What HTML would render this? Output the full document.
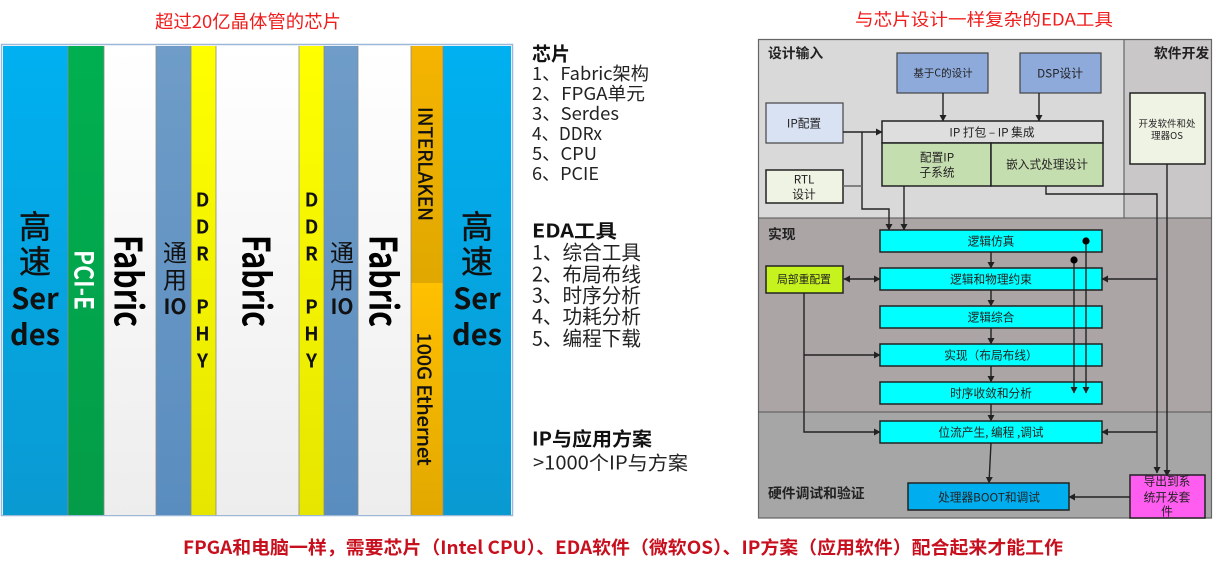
<!DOCTYPE html>
<html><head><meta charset="utf-8"><style>
html,body{margin:0;padding:0;background:#fff;width:1217px;height:567px;overflow:hidden}
svg{display:block;filter:blur(.35px)}
text{font-family:"Liberation Sans","Noto Sans CJK SC",sans-serif;dominant-baseline:central}
.n{font-family:"Noto Sans CJK SC","Liberation Sans",sans-serif}
.b{font-weight:700}
.m{text-anchor:middle}
.s{font-size:11.7px;fill:#222;text-anchor:middle;font-family:"Noto Sans CJK SC",sans-serif}
.h{font-size:13.8px;font-weight:700;fill:#222;font-family:"Noto Sans CJK SC",sans-serif}
.l{font-size:18px;fill:#222;font-family:"Noto Sans CJK SC",sans-serif}
.lb{font-size:19px;font-weight:700;fill:#111;font-family:"Noto Sans CJK SC",sans-serif}
.w{stroke:#222;stroke-width:1.4;fill:none}
.box{stroke:#222;stroke-width:1.5}
.r{font-family:"Noto Sans CJK SC",sans-serif;font-weight:700;fill:#000}
.t{stroke:#111;stroke-width:.45}
</style></head><body>
<svg width="1217" height="567" viewBox="0 0 1217 567" xmlns="http://www.w3.org/2000/svg">
<defs>
<linearGradient id="gb" x1="0" y1="0" x2="0" y2="1"><stop offset="0" stop-color="#00b0f0"/><stop offset="1" stop-color="#0a9ad2"/></linearGradient>
<linearGradient id="gg" x1="0" y1="0" x2="0" y2="1"><stop offset="0" stop-color="#00b050"/><stop offset="1" stop-color="#049c48"/></linearGradient>
<linearGradient id="gw" x1="0" y1="0" x2="0" y2="1"><stop offset="0" stop-color="#ffffff"/><stop offset="1" stop-color="#ededed"/></linearGradient>
<linearGradient id="gs" x1="0" y1="0" x2="0" y2="1"><stop offset="0" stop-color="#6f9cc8"/><stop offset="1" stop-color="#5a8dbf"/></linearGradient>
<linearGradient id="gy" x1="0" y1="0" x2="0" y2="1"><stop offset="0" stop-color="#ffff00"/><stop offset="1" stop-color="#e6e600"/></linearGradient>
<linearGradient id="go1" x1="0" y1="0" x2="0" y2="1"><stop offset="0" stop-color="#f5b400"/><stop offset="1" stop-color="#e0a800"/></linearGradient>
<linearGradient id="go2" x1="0" y1="0" x2="0" y2="1"><stop offset="0" stop-color="#ffc000"/><stop offset="1" stop-color="#e2a800"/></linearGradient>
<marker id="a" markerWidth="7" markerHeight="7" refX="6" refY="3.5" orient="auto-start-reverse" markerUnits="userSpaceOnUse"><path d="M0 0L6.5 3.5L0 7z" fill="#222"/></marker>
</defs>

<text x="248" y="21" class="n m" font-size="18" fill="#f01c1c" textLength="186" lengthAdjust="spacingAndGlyphs">超过20亿晶体管的芯片</text>
<text x="984" y="18" class="n m" font-size="17" fill="#f01c1c" textLength="258" lengthAdjust="spacingAndGlyphs">与芯片设计一样复杂的EDA工具</text>

<!-- left chip -->
<rect x="1.5" y="44.5" width="511" height="471" fill="#fff" stroke="#9db8d6" stroke-width="1.5"/>
<rect x="3" y="46" width="65" height="469" fill="url(#gb)"/>
<rect x="68" y="46" width="36" height="469" fill="url(#gg)"/>
<rect x="104" y="46" width="52" height="469" fill="url(#gw)"/>
<rect x="156" y="46" width="35" height="469" fill="url(#gs)"/>
<rect x="191" y="46" width="25" height="469" fill="url(#gy)"/>
<rect x="216" y="46" width="83" height="469" fill="url(#gw)"/>
<rect x="299" y="46" width="25" height="469" fill="url(#gy)"/>
<rect x="324" y="46" width="34" height="469" fill="url(#gs)"/>
<rect x="358" y="46" width="53" height="469" fill="url(#gw)"/>
<rect x="411" y="46" width="32" height="237" fill="url(#go1)"/>
<rect x="411" y="283" width="32" height="232" fill="url(#go2)"/>
<rect x="443" y="46" width="68" height="469" fill="url(#gb)"/>
<g stroke="#8a8a8a" stroke-width="1" opacity=".8" fill="none">
<path d="M68 46V515M104 46V515M156 46V515M191 46V515M216 46V515M299 46V515M324 46V515M358 46V515M411 46V515M443 46V515"/>
</g>

<text x="35" y="225" class="n m t" font-size="32" fill="#111">高</text>
<text x="35" y="260" class="n m t" font-size="32" fill="#111">速</text>
<text x="35" y="297" class="n m b" font-size="29" fill="#111">Ser</text>
<text x="35" y="333" class="n m b" font-size="29" fill="#111">des</text>
<text x="477" y="225" class="n m t" font-size="32" fill="#111">高</text>
<text x="477" y="260" class="n m t" font-size="32" fill="#111">速</text>
<text x="477" y="297" class="n m b" font-size="29" fill="#111">Ser</text>
<text x="477" y="333" class="n m b" font-size="29" fill="#111">des</text>

<g font-size="19" fill="#111">
<text x="202.5" y="199" class="n m b">D</text><text x="202.5" y="226" class="n m b">D</text><text x="202.5" y="253" class="n m b">R</text>
<text x="202.5" y="306" class="n m b">P</text><text x="202.5" y="333" class="n m b">H</text><text x="202.5" y="360" class="n m b">Y</text>
<text x="311.5" y="199" class="n m b">D</text><text x="311.5" y="226" class="n m b">D</text><text x="311.5" y="253" class="n m b">R</text>
<text x="311.5" y="306" class="n m b">P</text><text x="311.5" y="333" class="n m b">H</text><text x="311.5" y="360" class="n m b">Y</text>
</g>
<g font-size="24" fill="#111">
<text x="175" y="251" class="n m">通</text><text x="175" y="278" class="n m">用</text><text x="175" y="306" class="n m b" font-size="21">IO</text>
<text x="342" y="251" class="n m">通</text><text x="342" y="278" class="n m">用</text><text x="342" y="306" class="n m b" font-size="21">IO</text>
</g>

<text transform="translate(131 281) rotate(90)" class="r m" font-size="38" textLength="92" lengthAdjust="spacingAndGlyphs">Fabric</text>
<text transform="translate(259 281) rotate(90)" class="r m" font-size="38" textLength="92" lengthAdjust="spacingAndGlyphs">Fabric</text>
<text transform="translate(386 281) rotate(90)" class="r m" font-size="38" textLength="92" lengthAdjust="spacingAndGlyphs">Fabric</text>
<text transform="translate(85 280) rotate(90)" class="r m" font-size="26" style="fill:#fff" textLength="60" lengthAdjust="spacingAndGlyphs">PCI-E</text>
<text transform="translate(426 164) rotate(90)" class="n m t" font-size="19" fill="#111" textLength="114" lengthAdjust="spacingAndGlyphs">INTERLAKEN</text>
<text transform="translate(425 399) rotate(90)" class="n m t" font-size="19" fill="#111" textLength="133" lengthAdjust="spacingAndGlyphs">100G Ethernet</text>

<!-- middle list -->
<text x="532" y="53" class="lb">芯片</text>
<text x="532" y="73" class="l" textLength="117" lengthAdjust="spacingAndGlyphs">1、Fabric架构</text>
<text x="532" y="93" class="l" textLength="113" lengthAdjust="spacingAndGlyphs">2、FPGA单元</text>
<text x="532" y="113" class="l" textLength="87" lengthAdjust="spacingAndGlyphs">3、Serdes</text>
<text x="532" y="133" class="l" textLength="70" lengthAdjust="spacingAndGlyphs">4、DDRx</text>
<text x="532" y="153" class="l" textLength="65" lengthAdjust="spacingAndGlyphs">5、CPU</text>
<text x="532" y="173" class="l" textLength="67" lengthAdjust="spacingAndGlyphs">6、PCIE</text>
<text x="532" y="230" class="lb" textLength="85" lengthAdjust="spacingAndGlyphs">EDA工具</text>
<text x="532" y="251" class="l" style="font-size:20px" textLength="109" lengthAdjust="spacingAndGlyphs">1、综合工具</text>
<text x="532" y="273" class="l" style="font-size:20px" textLength="109" lengthAdjust="spacingAndGlyphs">2、布局布线</text>
<text x="532" y="294" class="l" style="font-size:20px" textLength="109" lengthAdjust="spacingAndGlyphs">3、时序分析</text>
<text x="532" y="315" class="l" style="font-size:20px" textLength="109" lengthAdjust="spacingAndGlyphs">4、功耗分析</text>
<text x="532" y="337" class="l" style="font-size:20px" textLength="109" lengthAdjust="spacingAndGlyphs">5、编程下载</text>
<text x="532" y="438" class="lb" textLength="120" lengthAdjust="spacingAndGlyphs">IP与应用方案</text>
<text x="533" y="462" class="l" style="font-size:19px" textLength="155" lengthAdjust="spacingAndGlyphs">&gt;1000个IP与方案</text>

<!-- right diagram -->
<rect x="758" y="39" width="366" height="179" fill="#d9d9d9"/>
<rect x="1124" y="39" width="88" height="179" fill="#c9c7c7"/>
<rect x="758" y="218" width="454" height="194" fill="#aba5a5"/>
<rect x="758" y="412" width="454" height="106" fill="#a6a6a6"/>
<path d="M758.5 39.5H1211.5V518H758.5Z" fill="none" stroke="#666" stroke-width="1.2"/>
<path d="M758 218H1212M758 412H1212" stroke="#555" stroke-width="1"/>
<path d="M1124 39V218" stroke="#666" stroke-width="1.2"/>

<text x="768" y="52" class="h">设计输入</text>
<text x="1154" y="52" class="h">软件开发</text>
<text x="768" y="233" class="h">实现</text>
<text x="768" y="492" class="h">硬件调试和验证</text>

<rect x="897" y="53" width="91" height="40" fill="#8eaadb" stroke="#444" stroke-width="1.2"/>
<text x="943" y="73" class="s" style="font-size:10.5px">基于C的设计</text>
<rect x="1020" y="53" width="81" height="40" fill="#8eaadb" stroke="#444" stroke-width="1.2"/>
<text x="1060" y="73" class="s">DSP设计</text>
<rect x="766" y="103" width="77" height="40" fill="#d9e2f3" stroke="#444" stroke-width="1.2"/>
<text x="804" y="123" class="s">IP配置</text>
<rect x="766" y="170" width="77" height="33" fill="#eff3e4" class="box"/>
<text x="804" y="179" class="s">RTL</text><text x="804" y="194" class="s">设计</text>

<rect x="882" y="121" width="221" height="22" fill="#dedede" class="box"/>
<text x="992" y="132" class="s">IP 打包 – IP 集成</text>
<rect x="882" y="143" width="109" height="43" fill="#c5deb0" class="box"/>
<rect x="991" y="143" width="112" height="43" fill="#c5deb0" class="box"/>
<text x="937" y="157" class="s">配置IP</text><text x="937" y="172" class="s">子系统</text>
<text x="1047" y="164" class="s">嵌入式处理设计</text>

<rect x="1130" y="93" width="75" height="71" fill="#eff3e4" class="box"/>
<text x="1167" y="123" class="s" style="font-size:9.5px">开发软件和处</text>
<text x="1167" y="135" class="s" style="font-size:9.5px">理器OS</text>

<g fill="#00ffff" class="box">
<rect x="880" y="230" width="222" height="22"/>
<rect x="880" y="268" width="222" height="22"/>
<rect x="880" y="306" width="222" height="22"/>
<rect x="880" y="344" width="222" height="22"/>
<rect x="880" y="382" width="222" height="22"/>
<rect x="880" y="421" width="222" height="22"/>
</g>
<text x="991" y="241" class="s">逻辑仿真</text>
<text x="991" y="279" class="s">逻辑和物理约束</text>
<text x="991" y="317" class="s">逻辑综合</text>
<text x="991" y="355" class="s">实现（布局布线）</text>
<text x="991" y="393" class="s">时序收敛和分析</text>
<text x="991" y="432" class="s">位流产生, 编程 ,调试</text>

<rect x="766" y="266" width="77" height="27" fill="#c6f21e" class="box"/>
<text x="804" y="279" class="s" style="font-size:10.8px">局部重配置</text>
<rect x="908" y="483" width="161" height="27" fill="#00aeef" class="box"/>
<text x="989" y="497" class="s">处理器BOOT和调试</text>
<rect x="1130" y="475" width="75" height="43" fill="#ff5cf0" class="box"/>
<text x="1167" y="481" class="s">导出到系</text><text x="1167" y="497" class="s">统开发套</text><text x="1167" y="511" class="s">件</text>

<!-- connectors -->
<g class="w">
<path d="M943 93V121" marker-end="url(#a)"/>
<path d="M1039 93V121" marker-end="url(#a)"/>
<path d="M843 132H882" marker-end="url(#a)"/>
<path d="M862 132V209H889V230" marker-end="url(#a)"/>
<path d="M843 186H862" stroke="#666"/>
<path d="M904 186V230" marker-end="url(#a)"/>
<path d="M1046 186V194H1157V473" marker-end="url(#a)"/>
<path d="M1167 164V476" marker-end="url(#a)"/>
<path d="M1157 279H1102" marker-end="url(#a)"/>
<path d="M1157 432H1102" marker-end="url(#a)"/>
<path d="M991 252V268" marker-end="url(#a)"/>
<path d="M991 290V306" marker-end="url(#a)"/>
<path d="M991 328V344" marker-end="url(#a)"/>
<path d="M991 366V382" marker-end="url(#a)"/>
<path d="M991 404V421" marker-end="url(#a)"/>
<path d="M991 443L989 483" marker-end="url(#a)"/>
<path d="M844 279H880" marker-start="url(#a)" marker-end="url(#a)"/>
<path d="M804 293V432H880" marker-end="url(#a)"/>
<path d="M804 355H880" marker-end="url(#a)"/>
<path d="M1130 497H1069" marker-end="url(#a)"/>
<path d="M1086 241V393" marker-end="url(#a)"/>
<path d="M1074 260V393" marker-end="url(#a)"/>
</g>
<circle cx="1086" cy="241" r="3.6" fill="#000"/>
<circle cx="1074" cy="260" r="3.6" fill="#000"/>

<text x="623" y="547" class="n m b" font-size="18" fill="#c80f1e" textLength="880" lengthAdjust="spacingAndGlyphs">FPGA和电脑一样，需要芯片（Intel CPU）、EDA软件（微软OS）、IP方案（应用软件）配合起来才能工作</text>
</svg>
</body></html>
